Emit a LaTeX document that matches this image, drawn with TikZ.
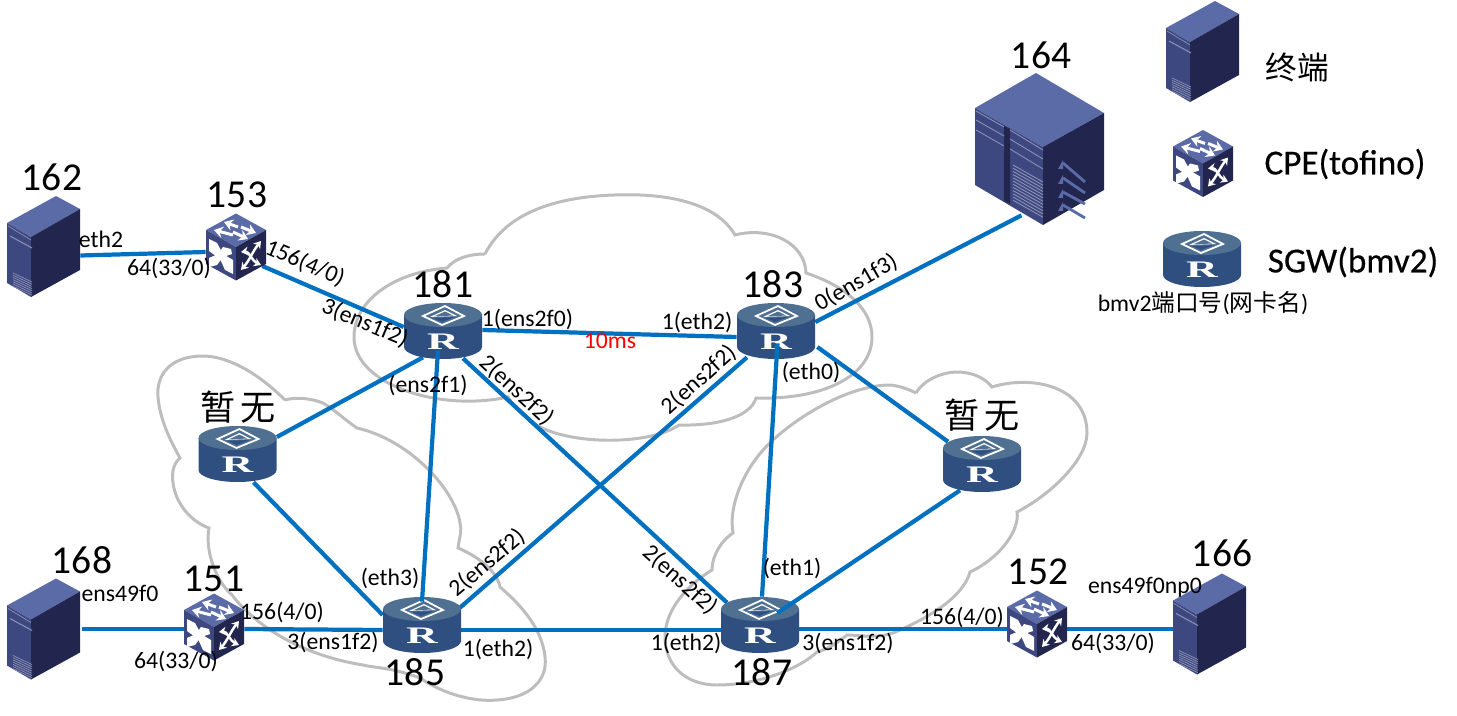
\documentclass[tikz,border=0pt]{standalone}
\usepackage{fontspec}
\setmainfont{Carlito}
\newfontfamily\cjk{Noto Sans CJK SC}
\newfontfamily\iconfont{Liberation Serif}
\newfontfamily\legendfont[FakeBold=0.5]{Carlito}
\usetikzlibrary{arrows.meta,calc}
\definecolor{linkblue}{HTML}{0070C0}
\definecolor{cloudgray}{HTML}{BDBDBD}
\definecolor{facetop}{HTML}{5A6BA8}
\definecolor{faceleft}{HTML}{3E4880}
\definecolor{faceright}{HTML}{22264F}
\definecolor{routertop}{HTML}{4F7090}
\definecolor{routerside}{HTML}{2F4F80}
\tikzset{
  link/.style={draw=linkblue,line width=2.4pt},
  cloudline/.style={draw=cloudgray,line width=1.7pt},
  routerbox/.style={minimum width=1.56cm,minimum height=1.12cm,inner sep=0pt},
  switchbox/.style={minimum width=1.2cm,minimum height=1.34cm,inner sep=0pt},
  hostbox/.style={minimum width=1.46cm,minimum height=2.02cm,inner sep=0pt},
  bigbox/.style={minimum width=2.58cm,minimum height=3.04cm,inner sep=0pt},
  portlabel/.style={font=\fontsize{13.5}{15}\selectfont,inner sep=0pt},
  idlabel/.style={font=\fontsize{22.5}{25}\selectfont,inner sep=0pt},
  cjklabel/.style={font=\fontsize{20}{23}\selectfont\cjk,inner sep=0pt},
  legendlabel/.style={font=\fontsize{20}{24}\selectfont\legendfont,inner sep=0pt},
  arrowline/.style={white,line width=1.7pt,-{Stealth[length=5pt,width=6.5pt]}},
  curveline/.style={white,line width=1.4pt,{Stealth[length=4pt,width=5pt]}-{Stealth[length=4pt,width=5pt]}},
  routericon/.pic={
    \fill[routerside] (-39,-16) -- (-39,16) arc[start angle=180,end angle=0,x radius=39,y radius=12] -- (39,-16) -- cycle;
    \fill[routertop] (0,-16) ellipse[x radius=39,y radius=12];
    \draw[white,line width=1pt] (-20,-15) -- (2,-25) -- (21,-15) -- (-1,-6) -- cycle;
    \fill[white] (-13,-14) -- (2,-21) -- (14,-15) -- cycle;
    \fill[routerside] (-10,-13) -- (-1,-9) -- (12,-14) -- cycle;
    \fill[routertop] (-9,-14.5) -- (2,-19.5) -- (10,-15.5) -- cycle;
    \node[xscale=1.85,transform shape,font=\fontsize{13.5}{15}\selectfont\iconfont\bfseries,text=white,inner sep=0pt] (rmark) at (0,11) {R};
  },
  switchicon/.pic={
    \fill[facetop] (0,-33.5) -- (30,-17) -- (0,0) -- (-30,-17) -- cycle;
    \fill[faceleft] (-30,-17) -- (0,0) -- (0,33.5) -- (-30,17) -- cycle;
    \fill[faceright] (30,-17) -- (0,0) -- (0,33.5) -- (30,17) -- cycle;
    \draw[arrowline] (-3,-12) -- (-22,-17);
    \draw[arrowline] (2,-20) -- (-12,-25);
    \draw[arrowline] (5,-20) -- (20,-14);
    \draw[arrowline] (-3,-15) -- (12,-8);
    \fill[white] (-27,-8) -- (-19,-4) -- (-13,7) -- (-3,13) -- (-3,27) -- (-11,23) -- (-16,12) -- (-27,4) -- cycle;
    \fill[white] (-27,20) -- (-27,11) -- (-18,7) -- (-13,0) -- (-5,2) -- (-4,7) -- (-13,10) -- (-19,18) -- cycle;
    \draw[curveline] (5,23) .. controls (13,14) and (17,4) .. (25,-6);
    \draw[curveline] (5,5) .. controls (13,4) and (16,14) .. (25,18);
  },
  hosticon/.pic={
    \begin{scope}[shift={(-36.5,-50.5)}]
    \fill[facetop] (49,0) -- (73,13) -- (24,41) -- (0,27) -- cycle;
    \fill[faceleft] (0,27) -- (24,41) -- (24,101) -- (0,87) -- cycle;
    \fill[faceright] (73,13) -- (73,74) -- (24,101) -- (24,41) -- cycle;
    \draw[faceleft!60!white,line width=0.4pt] (1,30) -- (24,44);
    \draw[faceleft!60!white,line width=0.6pt] (3,40) -- (25,52);
    \foreach \i in {0,...,6} \draw[faceleft!60!white,line width=0.4pt] (6,{77+\i*2.2}) -- (25,{86+\i*2.2});
    \end{scope}
  },
  bigicon/.pic={
    \begin{scope}[shift={(-1039.5,-149)}]
    \fill[facetop] (1036,73) -- (1104,113) -- (1043,147) -- (975,108) -- cycle;
    \fill[faceleft] (975,108) -- (1043,147) -- (1043,225) -- (975,185) -- cycle;
    \fill[faceright] (1104,113) -- (1104,190) -- (1043,225) -- (1043,147) -- cycle;
    \fill[faceright] (1004,126) -- (1010,129) -- (1010,204) -- (1004,201) -- cycle;
    \draw[faceleft!60!white,line width=0.5pt] (976,111) -- (1004,127) (1010,130) -- (1043,150);
    \draw[faceleft!60!white,line width=0.5pt] (976,120) -- (1004,136) (1010,139) -- (1043,159);
    \draw[faceleft!60!white,line width=0.5pt] (976,130) -- (1004,146) (1010,149) -- (1043,169);
    \foreach \i in {0,...,11} \draw[faceleft!60!white,line width=0.5pt] (1013,{165+\i*3.2}) -- (1043,{182+\i*3.2});
    \foreach \ya/\yb in {163/182,178/193,192/204,205/218} {
      \draw[facetop,line width=1.6pt] (1063,\ya) -- (1085,\yb);
      \fill[facetop] (1063,{\ya-3}) -- (1063,{\ya+6}) -- (1058,{\ya+6}) -- cycle;
    }
    \end{scope}
  }
}
\begin{document}
\begin{tikzpicture}[x=0.02cm,y=-0.02cm]
\useasboundingbox (0,0) rectangle (1457,716);
\foreach \name/\x/\y in {r181/443/331,r183/776/331,rleft/237.5/454,rright/982/464,r185/422/625,r187/760/625,rlegend/1202/259}
  \node[routerbox] (\name) at (\x,\y) {};
\foreach \name/\x/\y in {c153/236/247,c151/214/627,c152/1037/624,clegend/1203/163.5}
  \node[switchbox] (\name) at (\x,\y) {};
\foreach \name/\x/\y in {s162/43.5/246.5,s168/43.5/629,s166/1209.5/624,slegend/1202.5/51.5}
  \node[hostbox] (\name) at (\x,\y) {};
\node[bigbox] (s164) at (1039.5,149) {};
\draw[cloudline] (485,254) .. controls (510,205) and (575,193) .. (640,195) .. controls (690,197) and (722,212) .. (735,235) .. controls (770,226) and (805,243) .. (806,273) .. controls (848,287) and (872,310) .. (872,337) .. controls (872,375) and (825,400) .. (756,398) .. controls (750,418) and (715,426) .. (679,425) .. controls (650,445) and (575,445) .. (540,427) .. controls (525,418) and (515,408) .. (508,397) .. controls (440,412) and (354,385) .. (354,337) .. controls (354,300) and (395,272) .. (447,268) .. controls (455,258) and (470,254) .. (485,254);
\draw[cloudline] (285,400) .. controls (255,370) and (225,356) .. (203,356) .. controls (170,356) and (156,375) .. (158,397) .. controls (160,420) and (170,440) .. (180,458) .. controls (172,465) and (172,475) .. (173,483) .. controls (176,505) and (192,522) .. (209,528) .. controls (205,550) and (215,580) .. (232,595) .. controls (255,625) and (300,655) .. (363,665) .. controls (375,668) and (390,667) .. (420,678) .. controls (445,695) and (475,702) .. (497,700) .. controls (530,698) and (548,680) .. (545,657) .. controls (542,625) and (515,600) .. (500,587) .. controls (497,570) and (475,555) .. (458,548) .. controls (460,535) and (462,530) .. (460,523) .. controls (455,490) and (410,440) .. (357,428) .. controls (345,420) and (335,410) .. (323,403) .. controls (310,398) and (295,397) .. (285,400);
\draw[cloudline] (916,393) .. controls (925,378) and (945,372) .. (957,372) .. controls (972,372) and (985,378) .. (992,387) .. controls (1030,375) and (1087,385) .. (1087,433) .. controls (1087,460) and (1050,495) .. (1017,512) .. controls (1020,530) and (1000,558) .. (970,572) .. controls (965,590) and (945,610) .. (900,630) .. controls (880,640) and (860,635) .. (847,635) .. controls (835,645) and (825,650) .. (817,652) .. controls (800,668) and (760,685) .. (717,685) .. controls (685,685) and (665,665) .. (665,637) .. controls (665,615) and (680,590) .. (712,570) .. controls (712,555) and (722,540) .. (733,533) .. controls (728,505) and (745,465) .. (773,440) .. controls (800,415) and (850,385) .. (890,385) .. controls (900,386) and (908,389) .. (916,393);
\draw[link] ($(s162.east)+(0,9)$) -- ($(c153.west)+(0,5)$);
\draw[link] ($(c153.east)+(-4,19)$) -- ($(r181.west)+(0,-4)$);
\draw[link] ($(r181.east)+(0,-1)$) -- ($(r183.west)+(0,6)$);
\draw[link] ($(r181.south)+(-20,-2)$) -- ($(rleft.east)+(0,-17)$);
\draw[link] ($(r181.south)+(20,-1)$) -- ($(r187.north)+(-33,6)$);
\draw[link] ($(r183.south)+(-29,-2)$) -- ($(r185.north)+(38,11)$);
\draw[link] ($(r183.east)+(0,-9)$) -- ($(s164.south)+(-18,-10)$);
\draw[link] ($(r183.east)+(2,16)$) -- ($(rright.north)+(-34,6)$);
\draw[link] ($(rleft.south)+(16,0)$) -- ($(r185.west)+(0,-10)$);
\draw[link] ($(r185.east)+(0,5)$) -- ($(r187.west)+(0,5)$);
\draw[link] ($(r187.east)+(0,4)$) -- ($(c152.west)+(0,5)$);
\draw[link] ($(c152.east)+(0,5)$) -- ($(s166.west)+(0,5)$);
\draw[link] ($(s168.east)+(2,0)$) -- ($(c151.west)+(0,2)$);
\draw[link] ($(c151.east)+(0,2)$) -- ($(r185.west)+(0,5)$);
\foreach \name in {r181,r183,rleft,rright,r185,r187,rlegend} \pic at (\name) {routericon};
\foreach \name in {c153,c151,c152,clegend} \pic at (\name) {switchicon};
\foreach \name in {s162,s168,s166,slegend} \pic at (\name) {hosticon};
\pic at (s164) {bigicon};
\draw[link] ($(r181.south)+(-5,-9)$) -- ($(r185.north)+(0,5)$);
\draw[link] ($(r183.south)+(1.5,-16)$) -- ($(r187.north)+(2,0)$);
\draw[link] ($(rright.south)+(-22,-2)$) -- ($(r187.east)+(-22,-12)$);
\node[idlabel] (t162) at (52,177) {162};
\node[idlabel] (t153) at (237,195) {153};
\node[idlabel] (t181) at (443,284) {181};
\node[idlabel] (t183) at (773,284) {183};
\node[idlabel] (t164) at (1041,55) {164};
\node[idlabel] (t168) at (82,560) {168};
\node[idlabel] (t151) at (214,579) {151};
\node[idlabel] (t185) at (415,672) {185};
\node[idlabel] (t187) at (762,672) {187};
\node[idlabel] (t152) at (1038,572) {152};
\node[idlabel] (t166) at (1222,553) {166};
\node[cjklabel] (tleft) at (238,407) {暂\kern3pt 无};
\node[cjklabel] (tright) at (982,415) {暂\kern3pt 无};
\node[portlabel] (p1) at (101,239) {eth2};
\node[portlabel] (p2) at (169,268) {64(33/0)};
\node[portlabel,rotate=-23] (p3) at (305,263) {156(4/0)};
\node[portlabel,rotate=-23] (p4) at (365,323) {3(ens1f2)};
\node[portlabel] (p5) at (527.5,319) {1(ens2f0)};
\node[portlabel,text=red] (p6) at (610,341) {10ms};
\node[portlabel] (p7) at (697,322) {1(eth2)};
\node[portlabel,rotate=30] (p8) at (856,283) {0(ens1f3)};
\node[portlabel,rotate=-43] (p9) at (517,390) {2(ens2f2)};
\node[portlabel,rotate=42] (p10) at (699,380) {2(ens2f2)};
\node[portlabel] (p11) at (811,372) {(eth0)};
\node[portlabel] (p12) at (428,385) {(ens2f1)};
\node[portlabel] (p13) at (390,578) {(eth3)};
\node[portlabel,rotate=40] (p14) at (487,563) {2(ens2f2)};
\node[portlabel] (p15) at (282,612) {156(4/0)};
\node[portlabel] (p16) at (333,642) {3(ens1f2)};
\node[portlabel] (p17) at (176,661) {64(33/0)};
\node[portlabel] (p18) at (120,593) {ens49f0};
\node[portlabel] (p19) at (498,649) {1(eth2)};
\node[portlabel] (p20) at (686,643) {1(eth2)};
\node[portlabel,rotate=-42] (p21) at (680,580) {2(ens2f2)};
\node[portlabel] (p22) at (792,568) {(eth1)};
\node[portlabel] (p23) at (848,643) {3(ens1f2)};
\node[portlabel] (p24) at (962,617) {156(4/0)};
\node[portlabel] (p25) at (1113,643) {64(33/0)};
\node[portlabel] (p26) at (1145,587) {ens49f0np0};
\node[cjklabel,font=\fontsize{18}{20}\selectfont\cjk] (lg1) at (1297,68) {终端};
\node[legendlabel] (lg2) at (1345,164) {CPE(tofino)};
\node[legendlabel] (lg3) at (1353,262) {SGW(bmv2)};
\node[portlabel] (lg4) at (1203,303) {bmv2{\cjk 端口号}({\cjk 网卡名})};
\end{tikzpicture}
\end{document}
